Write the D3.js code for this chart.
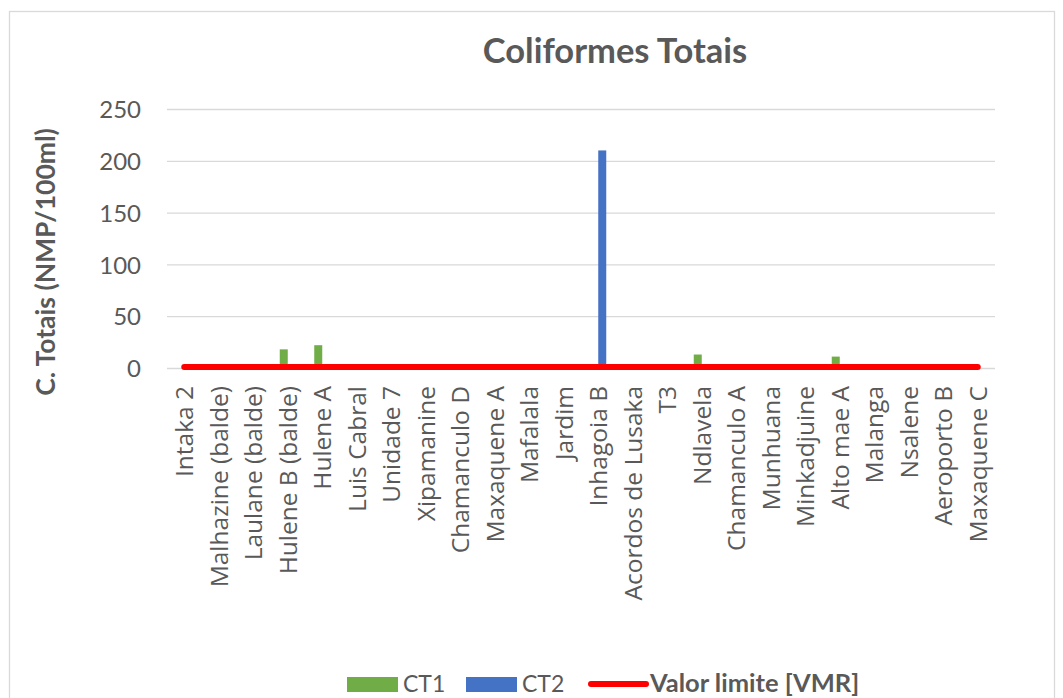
<!DOCTYPE html>
<html>
<head>
<meta charset="utf-8">
<script src="https://cdn.jsdelivr.net/npm/d3@7"></script>
<style>
  html, body { margin: 0; padding: 0; background: #fff; }
  svg { display: block; }
</style>
</head>
<body>
<svg id="chart" width="1063" height="698"></svg>
<script>
// Sampling sites
const categories = [
  "Intaka 2", "Malhazine (balde)", "Laulane (balde)", "Hulene B (balde)", "Hulene A",
  "Luis Cabral", "Unidade 7", "Xipamanine", "Chamanculo D", "Maxaquene A",
  "Mafalala", "Jardim", "Inhagoia B", "Acordos de Lusaka", "T3", "Ndlavela",
  "Chamanculo A", "Munhuana", "Minkadjuine", "Alto mae A", "Malanga", "Nsalene",
  "Aeroporto B", "Maxaquene C"
];
// Total coliforms, NMP/100ml
const ct1 = [0, 0, 0, 18, 22, 0, 0, 0, 0, 0, 0, 0, 0, 0, 0, 13, 0, 0, 0, 11, 0, 0, 0, 0];
const ct2 = [0, 0, 0, 0, 0, 0, 0, 0, 0, 0, 0, 0, 210, 0, 0, 0, 0, 0, 0, 0, 0, 0, 0, 0];
// Maximum admissible value (VMR)
const vmr = categories.map(() => 0);
const yTicks = [0, 50, 100, 150, 200, 250];

const seriesNames = ["CT1", "CT2", "Valor limite [VMR]"];
const colors = { CT1: "#70ad47", CT2: "#4472c4", VMR: "#ff0000" };
const textColor = "#595959";
const gridColor = "#d9d9d9";
const calibriLike = "Lato, 'Open Sans', sans-serif";
const labelFont = "'Open Sans', sans-serif";

const svg = d3.select("#chart");

// Chart frame
svg.append("rect")
  .attr("x", 9.5).attr("y", 11.5)
  .attr("width", 1045).attr("height", 700)
  .attr("fill", "#fff")
  .attr("stroke", gridColor).attr("stroke-width", 1.3);

const plot = { left: 167, right: 995, top: 109, bottom: 368 };

const x = d3.scaleBand()
  .domain(categories)
  .range([plot.left, plot.right]);

const y = d3.scaleLinear()
  .domain([0, 250])
  .range([plot.bottom, plot.top]);

// Gridlines
svg.append("g")
  .selectAll("line")
  .data(yTicks)
  .join("line")
  .attr("x1", plot.left).attr("x2", plot.right)
  .attr("y1", d => y(d) + 0.5).attr("y2", d => y(d) + 0.5)
  .attr("stroke", gridColor).attr("stroke-width", 1.3);

// Y axis tick labels
const yAxis = d3.axisLeft(y).tickValues(yTicks).tickSize(0).tickPadding(0);
const yg = svg.append("g")
  .attr("transform", `translate(${plot.left - 26},0)`)
  .call(yAxis);
yg.select(".domain").remove();
yg.selectAll("text")
  .attr("fill", textColor)
  .style("font-family", calibriLike)
  .style("font-size", "24px")
  .attr("dy", "0.36em");

// X axis labels, rotated
const xAxis = d3.axisBottom(x).tickSize(0).tickPadding(0);
const xg = svg.append("g")
  .attr("transform", `translate(0,${plot.bottom})`)
  .call(xAxis);
xg.select(".domain").remove();
xg.selectAll("text")
  .attr("fill", textColor)
  .style("font-family", labelFont)
  .style("font-size", "24.5px")
  .attr("text-anchor", "end")
  .attr("transform", "rotate(-90)")
  .attr("x", -18)
  .attr("y", 0)
  .attr("dy", "0.36em");

// Bars: two series per site
const barW = 8;
svg.append("g")
  .selectAll("rect")
  .data(categories.map((c, i) => ({ c, v: ct1[i] })).filter(d => d.v > 0))
  .join("rect")
  .attr("x", d => x(d.c) + x.bandwidth() / 2 - barW)
  .attr("width", barW)
  .attr("y", d => y(d.v))
  .attr("height", d => y(0) - y(d.v))
  .attr("fill", colors.CT1);

svg.append("g")
  .selectAll("rect")
  .data(categories.map((c, i) => ({ c, v: ct2[i] })).filter(d => d.v > 0))
  .join("rect")
  .attr("x", d => x(d.c) + x.bandwidth() / 2)
  .attr("width", barW)
  .attr("y", d => y(d.v))
  .attr("height", d => y(0) - y(d.v))
  .attr("fill", colors.CT2);

// Limit line
const line = d3.line()
  .x((d, i) => x(categories[i]) + x.bandwidth() / 2)
  .y(d => y(d) - 1);
svg.append("path")
  .datum(vmr)
  .attr("d", line)
  .attr("fill", "none")
  .attr("stroke", colors.VMR)
  .attr("stroke-width", 6)
  .attr("stroke-linecap", "round");

// Title
svg.append("text")
  .attr("x", 615).attr("y", 63)
  .attr("text-anchor", "middle")
  .attr("fill", textColor)
  .style("font-family", calibriLike)
  .style("font-weight", "bold")
  .style("font-size", "34.5px")
  .text("Coliformes Totais");

// Y axis title
svg.append("text")
  .attr("transform", "translate(55,262) rotate(-90)")
  .attr("text-anchor", "middle")
  .attr("fill", textColor)
  .style("font-family", calibriLike)
  .style("font-weight", "bold")
  .style("font-size", "26.5px")
  .text("C. Totais (NMP/100ml)");

// Legend
const lg = svg.append("g");
lg.append("rect").attr("x", 347).attr("y", 677).attr("width", 51).attr("height", 15).attr("fill", colors.CT1);
lg.append("text").attr("x", 403).attr("y", 692)
  .attr("fill", textColor).style("font-family", calibriLike).style("font-size", "23px")
  .text(seriesNames[0]);
lg.append("rect").attr("x", 466).attr("y", 677).attr("width", 51).attr("height", 15).attr("fill", colors.CT2);
lg.append("text").attr("x", 522).attr("y", 692)
  .attr("fill", textColor).style("font-family", calibriLike).style("font-size", "23px")
  .text(seriesNames[1]);
lg.append("line").attr("x1", 591).attr("x2", 646).attr("y1", 684).attr("y2", 684)
  .attr("stroke", colors.VMR).attr("stroke-width", 6).attr("stroke-linecap", "round");
lg.append("text").attr("x", 650).attr("y", 692)
  .attr("fill", textColor).style("font-family", calibriLike).style("font-size", "25.5px")
  .style("font-weight", "bold")
  .text(seriesNames[2]);
</script>
</body>
</html>
